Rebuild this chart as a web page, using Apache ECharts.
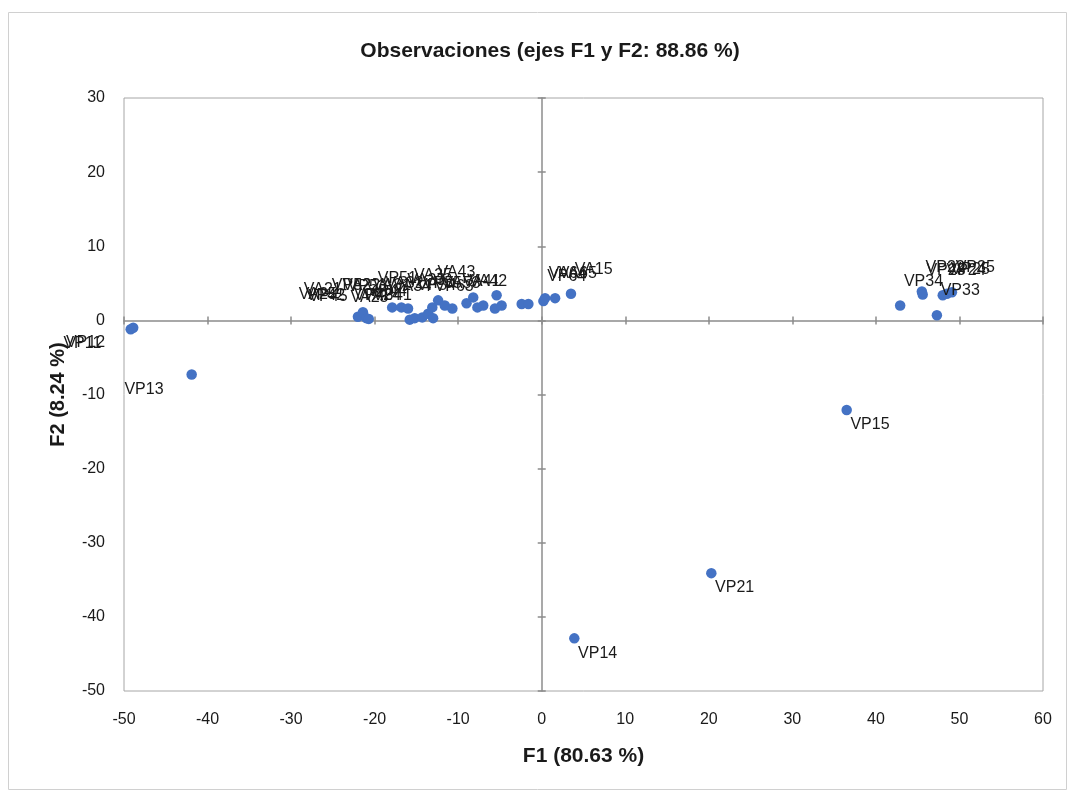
<!DOCTYPE html>
<html>
  <head>
    <title>Observaciones</title>
    <script src="https://cdn.jsdelivr.net/npm/echarts@6/dist/echarts.min.js"></script>
  </head>
  <body style="margin:0">
    <div id="main" style="width: 1072px; height: 794px"></div>
    <script>
      // observaciones: nombre, F1, F2
      var names = ["VP11", "VP12", "VP13", "VP14", "VP15", "VP21",
        "VA25", "VA21", "VP42", "VP45", "VP52", "VA22", "VP53", "VA23", "VP43", "VA24",
        "VP44", "VA31", "VP41", "VP51", "VA32", "VA34", "VA33", "VA35", "VP54", "VP55",
        "VA43", "VP63", "VA53", "VA41", "VA42", "VP64", "VA64", "VA65", "VA15",
        "VP34", "VP33", "VP22", "VP23", "VP24", "VP25", "VP35"];
      var f1 = [-49.2, -48.9, -41.9, 3.9, 36.5, 20.3,
        -22.0, -21.4, -21.0, -20.7, -17.9, -16.8, -16.0, -15.8, -15.2, -14.3,
        -13.6, -13.1, -13.0, -12.4, -11.6, -10.7, -9.0, -8.2, -7.7, -7.0,
        -5.4, -5.6, -4.8, -2.4, -1.6, 0.2, 0.4, 1.6, 3.5,
        42.9, 47.3, 45.5, 45.6, 48.0, 48.5, 49.1];
      var f2 = [-1.2, -1.0, -7.3, -42.9, -12.1, -34.1,
        0.5, 1.1, 0.3, 0.2, 1.75, 1.75, 1.6, 0.1, 0.3, 0.4,
        0.9, 1.75, 0.3, 2.7, 2.0, 1.6, 2.3, 3.1, 1.75, 2.0,
        3.4, 1.6, 2.0, 2.2, 2.2, 2.6, 3.0, 3.0, 3.6,
        2.0, 0.7, 3.9, 3.5, 3.4, 3.6, 3.8];

      // donde va la etiqueta de cada punto (por defecto abajo a la derecha)
      var labelSide = { VP11: "bl", VP12: "bl", VP13: "bl",
        VP64: "ar", VA64: "ar", VA65: "ar", VA15: "ar",
        VP34: "ar", VP33: "ar", VP22: "ar", VP23: "ar", VP24: "ar", VP25: "ar", VP35: "ar" };
      var sides = {
        br: { position: [9, 20], align: "left" },
        bl: { position: [-62, 20], align: "left" },
        ar: { position: [9, -19], align: "left" },
        al: { position: [-16, -17], align: "right" }
      };

      var txt = "#1a1a1a";
      var gray = "#8c8c8c";
      var font = "Liberation Sans";

      var points = names.map(function (n, i) {
        var s = sides[labelSide[n] || (f2[i] > -1 ? "al" : "br")];
        return {
          value: [f1[i], f2[i]],
          name: n,
          label: { position: s.position, align: s.align }
        };
      });

      function baseX(extra) {
        return Object.assign({
          type: "value", min: -50, max: 60, interval: 10,
          splitLine: { show: false }
        }, extra);
      }
      function baseY(extra) {
        return Object.assign({
          type: "value", min: -50, max: 30, interval: 10,
          splitLine: { show: false }
        }, extra);
      }

      var myChart = echarts.init(document.getElementById("main"));
      var option = {
        animation: false,
        title: {
          text: "Observaciones (ejes F1 y F2: 88.86 %)",
          left: 545, top: 28, textAlign: "center",
          textStyle: { fontFamily: font, fontSize: 21, fontWeight: "bold", color: txt }
        },
        graphic: [{
          type: "rect", silent: true,
          shape: { x: 8.5, y: 12.5, width: 1058, height: 777 },
          style: { fill: "none", stroke: "#d0d0d0", lineWidth: 1 }
        }],
        grid: {
          left: 124, right: 29, top: 98, bottom: 103,
          show: true, borderColor: "#a6a6a6", borderWidth: 1
        },
        xAxis: [
          baseX({
            position: "bottom",
            axisLine: { show: false, onZero: false },
            axisTick: { show: false },
            axisLabel: { margin: 15, fontFamily: font, fontSize: 16, color: txt },
            name: "F1 (80.63 %)", nameLocation: "middle", nameGap: 44,
            nameTextStyle: { fontFamily: font, fontSize: 21, fontWeight: "bold", color: txt }
          }),
          baseX({
            axisLine: { show: true, onZero: true, onZeroAxisIndex: 0, lineStyle: { color: gray, width: 1.5 } },
            axisTick: { show: true, length: 4, lineStyle: { color: gray, width: 1.5 } },
            axisLabel: { show: false }
          }),
          baseX({
            axisLine: { show: false, onZero: true, onZeroAxisIndex: 0 },
            axisTick: { show: true, inside: true, length: 4, lineStyle: { color: gray, width: 1.5 } },
            axisLabel: { show: false }
          })
        ],
        yAxis: [
          baseY({
            position: "left",
            axisLine: { show: false, onZero: false },
            axisTick: { show: false },
            axisLabel: { margin: 19, fontFamily: font, fontSize: 16, color: txt },
            name: "F2 (8.24 %)", nameLocation: "middle", nameGap: 48,
            nameMoveOverlap: false,
            nameTextStyle: { fontFamily: font, fontSize: 20, fontWeight: "bold", color: txt }
          }),
          baseY({
            axisLine: { show: true, onZero: true, onZeroAxisIndex: 0, lineStyle: { color: gray, width: 1.5 } },
            axisTick: { show: true, length: 4, lineStyle: { color: gray, width: 1.5 } },
            axisLabel: { show: false }
          }),
          baseY({
            axisLine: { show: false, onZero: true, onZeroAxisIndex: 0 },
            axisTick: { show: true, inside: true, length: 4, lineStyle: { color: gray, width: 1.5 } },
            axisLabel: { show: false }
          })
        ],
        series: [{
          type: "scatter",
          xAxisIndex: 0, yAxisIndex: 0,
          symbolSize: 10.5,
          itemStyle: { color: "#4472C4", opacity: 1 },
          label: {
            show: true,
            formatter: "{b}",
            verticalAlign: "middle",
            fontFamily: font, fontSize: 16, color: txt
          },
          labelLayout: { hideOverlap: false },
          data: points
        }]
      };
      myChart.setOption(option);
    </script>
  </body>
</html>
